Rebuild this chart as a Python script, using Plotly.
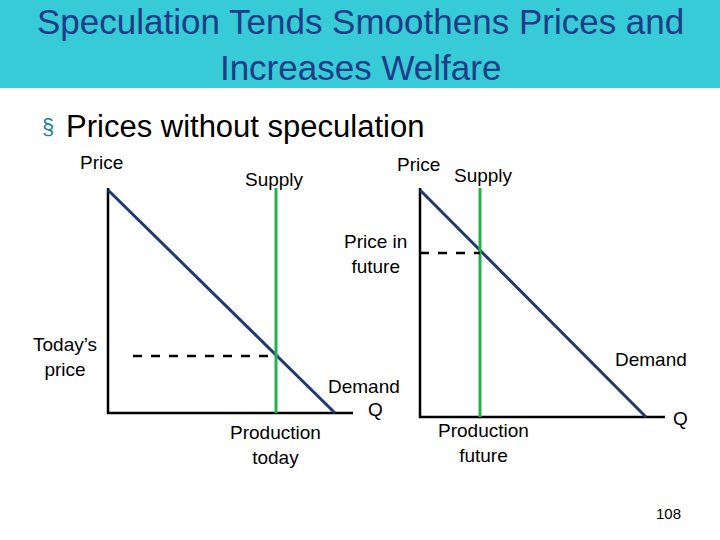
import plotly.graph_objects as go

# data (slide-pixel coordinates of diagram elements)
left_axis_x = [108, 108, 353]; left_axis_y = [188, 413, 413]
left_demand_x = [108, 335]; left_demand_y = [190, 413]
left_supply_x = [276, 276]; left_supply_y = [188, 413]
left_price_x = [133, 276]; left_price_y = [356, 356]
right_axis_x = [420, 420, 665]; right_axis_y = [188, 417, 417]
right_demand_x = [420, 646]; right_demand_y = [190, 417]
right_supply_x = [480, 480]; right_supply_y = [188, 417]
right_price_x = [420, 480]; right_price_y = [253, 253]

labels = [
    ("Price", 101, 162, "center"), ("Supply", 274, 179, "center"),
    ("Price", 418, 164, "center"), ("Supply", 483, 175, "center"),
    ("Price in<br>future", 375, 254, "center"),
    ("Today’s<br>price", 65, 357, "center"),
    ("Demand", 651, 359, "center"), ("Demand", 364, 386, "center"),
    ("Q", 375, 409, "center"), ("Q", 680, 418, "center"),
    ("Production<br>today", 275, 445, "center"),
    ("Production<br>future", 483, 443, "center"),
]

navy = "#1f3a6e"
green = "#22b14c"
fig = go.Figure()
def line(x, y, color, width=2.5, dash="solid"):
    fig.add_trace(go.Scatter(x=x, y=y, mode="lines", line=dict(color=color, width=width, dash=dash),
                             hoverinfo="skip", showlegend=False))
line(left_axis_x, left_axis_y, "black", 2.5)
line(right_axis_x, right_axis_y, "black", 2.5)
line(left_demand_x, left_demand_y, navy, 3)
line(right_demand_x, right_demand_y, navy, 3)
line(left_supply_x, left_supply_y, green, 3)
line(right_supply_x, right_supply_y, green, 3)
line(left_price_x, left_price_y, "black", 2.5, "dash")
line(right_price_x, right_price_y, "black", 2.5, "dash")

for t, x, y, a in labels:
    fig.add_annotation(x=x, y=y, text=t, showarrow=False, xanchor=a,
                       font=dict(family="Liberation Sans, Arial", size=19, color="black"))

fig.add_annotation(x=360, y=44, text="Speculation Tends Smoothens Prices and<br>Increases Welfare",
                   showarrow=False, font=dict(family="Liberation Sans, Arial", size=35, color="#1f3c88"))
fig.add_annotation(x=48, y=126, text="§", showarrow=False, xanchor="center",
                   font=dict(family="Liberation Sans, Arial", size=22, color="#1a7fa8"))
fig.add_annotation(x=64, y=126, text="Prices without speculation", showarrow=False, xanchor="left",
                   font=dict(family="Liberation Sans, Arial", size=31, color="black"))
fig.add_annotation(x=668, y=513, text="108", showarrow=False,
                   font=dict(family="Liberation Sans, Arial", size=15, color="black"))

fig.update_layout(
    width=720, height=540, margin=dict(l=0, r=0, t=0, b=0),
    plot_bgcolor="white", paper_bgcolor="white",
    xaxis=dict(range=[0, 720], visible=False, fixedrange=True),
    yaxis=dict(range=[540, 0], visible=False, fixedrange=True),
    shapes=[dict(type="rect", xref="x", yref="y", x0=-20, x1=740, y0=-20, y1=88,
                 fillcolor="#36cbd6", line=dict(width=0), layer="below")],
)
fig.write_html("out.html", config={"displayModeBar": False},
               post_script="document.body.style.margin='0';")
